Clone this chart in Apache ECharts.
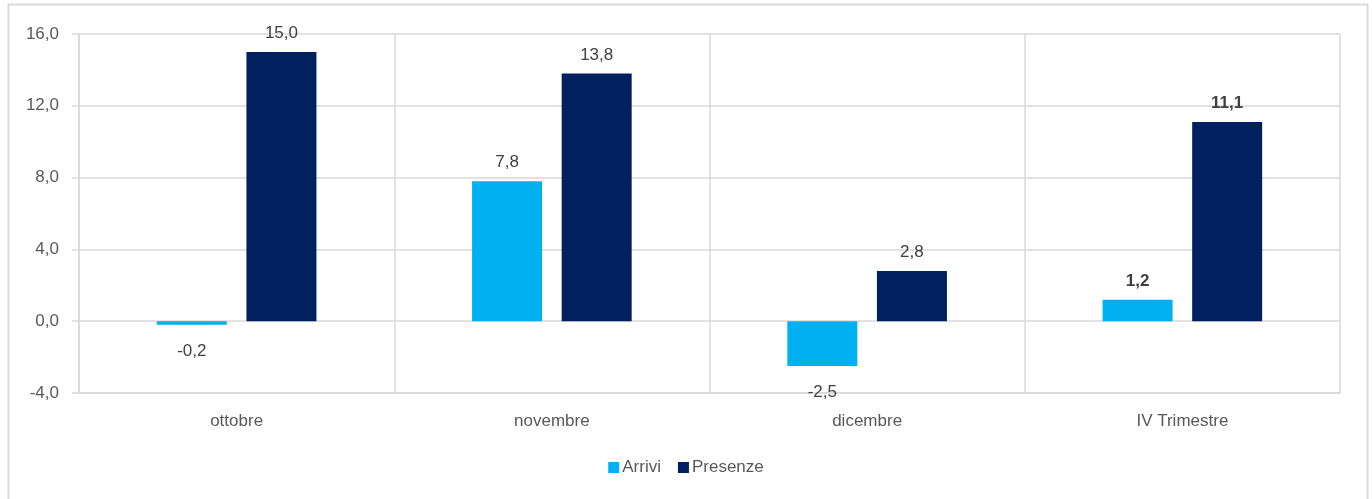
<!DOCTYPE html>
<html>
<head>
<meta charset="utf-8">
<script src="https://cdn.jsdelivr.net/npm/echarts@6/dist/echarts.min.js"></script>
<style>
html,body{margin:0;padding:0;background:#fff;}
#chart{width:1372px;height:499px;}
</style>
</head>
<body>
<div id="chart"></div>
<script>
const categories = ['ottobre', 'novembre', 'dicembre', 'IV Trimestre'];
const arrivi = [-0.2, 7.8, -2.5, 1.2];
const presenze = [15.0, 13.8, 2.8, 11.1];
const boldCategory = 'IV Trimestre';

const FONT = "'Liberation Sans', Arial, sans-serif";
const fmt = v => Number(v).toFixed(1).replace('.', ',');

function buildData(values) {
  return values.map((v, i) => ({
    value: v,
    label: {
      position: v < 0 ? 'bottom' : 'top',
      distance: v < 0 ? 18 : 10,
      fontWeight: categories[i] === boldCategory ? 'bold' : 'normal'
    }
  }));
}

const labelBase = {
  show: true,
  fontFamily: FONT,
  fontSize: 17,
  color: '#404040',
  formatter: p => fmt(p.value)
};

const chart = echarts.init(document.getElementById('chart'), null, {renderer: 'canvas'});
chart.setOption({
  animation: false,
  backgroundColor: '#ffffff',
  textStyle: {fontFamily: FONT},
  graphic: [{
    type: 'rect',
    silent: true,
    z: -10,
    shape: {x: 8.5, y: 4.5, width: 1359, height: 520},
    style: {fill: 'none', stroke: '#d9d9d9', lineWidth: 2}
  }],
  grid: {left: 79, right: 32, top: 34, bottom: 106, containLabel: false},
  legend: {
    bottom: 18,
    left: 'center',
    itemWidth: 11,
    itemHeight: 11,
    itemGap: 17,
    icon: 'rect',
    textStyle: {fontFamily: FONT, fontSize: 17, color: '#595959', padding: [0, 0, 0, -2]},
    data: ['Arrivi', 'Presenze']
  },
  xAxis: {
    type: 'category',
    data: categories,
    boundaryGap: true,
    axisLine: {show: true, onZero: false, lineStyle: {color: '#d9d9d9', width: 1.5}},
    axisTick: {show: false},
    splitLine: {show: true, lineStyle: {color: '#d9d9d9', width: 1.5}},
    axisLabel: {fontFamily: FONT, fontSize: 17, color: '#595959', margin: 20}
  },
  yAxis: {
    type: 'value',
    min: -4,
    max: 16,
    interval: 4,
    axisLine: {show: true, lineStyle: {color: '#d9d9d9', width: 1.5}},
    axisTick: {show: true, length: 7, lineStyle: {color: '#d9d9d9', width: 1.5}},
    splitLine: {show: true, lineStyle: {color: '#d9d9d9', width: 1.5}},
    axisLabel: {fontFamily: FONT, fontSize: 17, color: '#595959', margin: 20, formatter: v => fmt(v)}
  },
  series: [
    {
      name: 'Arrivi',
      type: 'bar',
      barWidth: 70,
      barGap: '28%',
      itemStyle: {color: '#00B0F0'},
      label: labelBase,
      data: buildData(arrivi)
    },
    {
      name: 'Presenze',
      type: 'bar',
      barWidth: 70,
      barGap: '28%',
      itemStyle: {color: '#002060'},
      label: labelBase,
      data: buildData(presenze)
    }
  ]
});
</script>
</body>
</html>
